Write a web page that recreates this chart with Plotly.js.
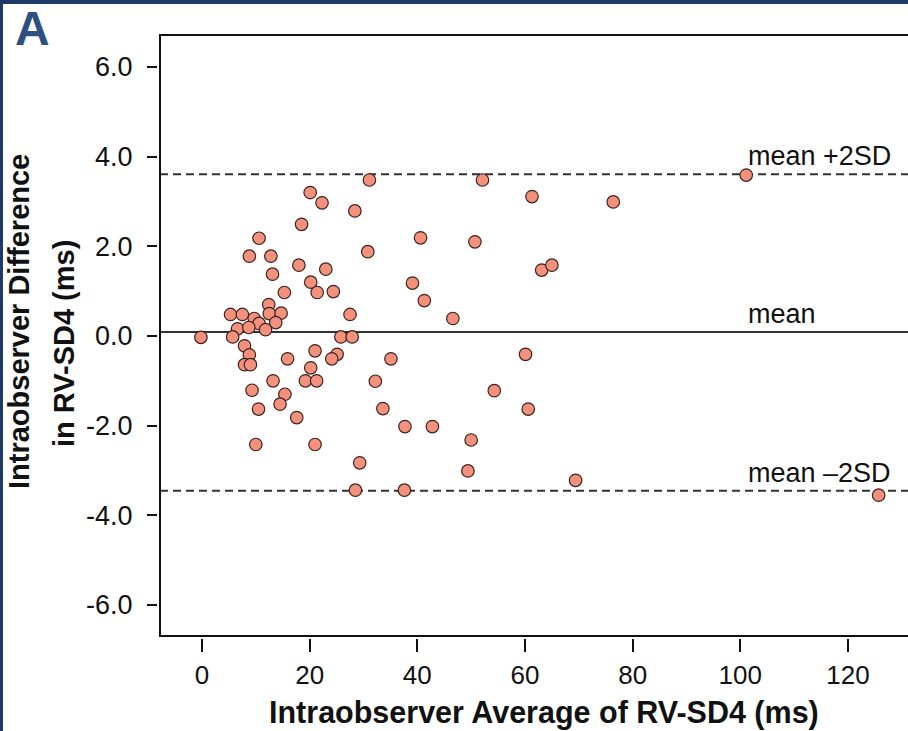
<!DOCTYPE html>
<html>
<head>
<meta charset="utf-8">
<script src="https://cdn.plot.ly/plotly-3.0.1.min.js"></script>
<style>
  html, body { margin: 0; padding: 0; background: #ffffff; }
  #chart { width: 908px; height: 731px; }
  #frame { position: absolute; left: 0; top: 0; width: 908px; height: 731px;
           border-top: 4px solid #1d3a68; border-left: 3px solid #1d3a68;
           box-sizing: border-box; pointer-events: none; }
</style>
</head>
<body>
<div id="chart"></div>
<div id="frame"></div>
<script>
// Bland-Altman data: average of two readings (ms) vs difference (ms)
const avgMs = [
  -0.2, 5.3, 7.5, 9.7, 10.6, 12.4, 12.5, 14.7, 13.7, 6.6,
  8.7, 11.8, 5.7, 7.9, 8.8, 7.9, 9.0, 15.9, 15.3, 20.2,
  21.4, 21.0, 20.2, 19.2, 21.3, 13.2, 9.3, 15.4, 31.1, 20.1,
  22.3, 28.4, 18.5, 10.6, 8.8, 12.8, 30.8, 18.0, 23.0, 13.1,
  24.4, 27.5, 25.8, 27.9, 25.1, 24.1, 35.1, 32.2, 14.5, 10.5,
  33.6, 17.6, 37.7, 10.0, 21.0, 29.3, 28.5, 37.6, 52.1, 61.3,
  76.4, 40.6, 50.7, 63.1, 65.0, 39.1, 41.3, 46.6, 101.1, 60.1,
  54.3, 60.6, 42.8, 50.0, 49.4, 69.4, 125.7
];
const diffMs = [
  -0.03, 0.48, 0.48, 0.39, 0.28, 0.70, 0.50, 0.51, 0.30, 0.16,
  0.19, 0.14, -0.02, -0.22, -0.42, -0.64, -0.64, -0.51, 0.97, 1.20,
  0.97, -0.33, -0.71, -1.00, -1.00, -1.00, -1.21, -1.30, 3.48, 3.20,
  2.97, 2.79, 2.49, 2.18, 1.78, 1.78, 1.88, 1.58, 1.49, 1.38,
  0.99, 0.48, -0.02, -0.02, -0.41, -0.51, -0.51, -1.01, -1.52, -1.63,
  -1.62, -1.82, -2.02, -2.42, -2.42, -2.83, -3.44, -3.44, 3.48, 3.11,
  2.99, 2.19, 2.10, 1.47, 1.58, 1.18, 0.79, 0.39, 3.59, -0.41,
  -1.22, -1.63, -2.02, -2.32, -3.01, -3.22, -3.55
];

// Limits of agreement
const meanDiff = 0.09;
const upperLoA = 3.61;
const lowerLoA = -3.45;
const limitLabels = ["mean +2SD", "mean", "mean \u20132SD"];
const limitValues = [upperLoA, meanDiff, lowerLoA];
const labelAtX = 101.0;

// Axes
const xTickVals = [0, 20, 40, 60, 80, 100, 120];
const xTickText = ["0", "20", "40", "60", "80", "100", "120"];
const yTickVals = [-6, -4, -2, 0, 2, 4, 6];
const yTickText = ["-6.0", "-4.0", "-2.0", "0.0", "2.0", "4.0", "6.0"];
const xTitle = "Intraobserver Average of RV-SD4 (ms)";
const yTitleLines = ["Intraobserver Difference", "in RV-SD4 (ms)"];
const panelLetter = "A";

const FONT = "Liberation Sans, Arial, Helvetica, sans-serif";
const L = 157, R = 0, T = 35, B = 93;
const PW = 908 - L - R, PH = 731 - T - B;
const px2paperX = p => (p - L) / PW;
const px2paperY = p => 1 - (p - T) / PH;

const trace = {
  x: avgMs, y: diffMs, type: "scatter", mode: "markers",
  marker: { size: 12.5, color: "#f3917d", line: { color: "#3a2420", width: 1.2 } },
  hoverinfo: "x+y", showlegend: false
};

const frameColor = "#111";
const shapes = [
  // frame: left, top, bottom (paper refs so they are not clipped)
  { type: "line", xref: "paper", yref: "paper", x0: px2paperX(160), x1: px2paperX(160), y0: px2paperY(637), y1: px2paperY(34), line: { color: frameColor, width: 2 }, layer: "above" },
  { type: "line", xref: "paper", yref: "paper", x0: px2paperX(159), x1: 1, y0: px2paperY(35), y1: px2paperY(35), line: { color: frameColor, width: 2 }, layer: "above" },
  { type: "line", xref: "paper", yref: "paper", x0: px2paperX(159), x1: 1, y0: px2paperY(636), y1: px2paperY(636), line: { color: frameColor, width: 2 }, layer: "above" },
  // limits of agreement
  { type: "line", xref: "x domain", yref: "y", x0: 0, x1: 1, y0: upperLoA, y1: upperLoA, line: { color: "#333", width: 2, dash: "8px,5px" }, layer: "below" },
  { type: "line", xref: "x domain", yref: "y", x0: 0, x1: 1, y0: meanDiff, y1: meanDiff, line: { color: "#333", width: 2 }, layer: "below" },
  { type: "line", xref: "x domain", yref: "y", x0: 0, x1: 1, y0: lowerLoA, y1: lowerLoA, line: { color: "#333", width: 2, dash: "8px,5px" }, layer: "below" }
];

const annotations = limitLabels.map((t, i) => ({
  text: t, xref: "x", yref: "y", x: labelAtX, y: limitValues[i],
  xanchor: "left", yanchor: "bottom", showarrow: false, yshift: 1,
  font: { family: FONT, size: 27, color: "#111" }
}));
annotations.push({
  text: "<b>" + panelLetter + "</b>", xref: "paper", yref: "paper",
  x: px2paperX(13), y: px2paperY(0), xanchor: "left", yanchor: "top",
  showarrow: false, font: { family: FONT, size: 48, color: "#2d5082" }
});
annotations.push({
  text: "<b>" + yTitleLines[0] + "</b>", xref: "paper", yref: "paper",
  x: px2paperX(19), y: px2paperY(322), xanchor: "center", yanchor: "middle",
  textangle: -90, showarrow: false, font: { family: FONT, size: 29, color: "#111" }
});
annotations.push({
  text: "<b>" + yTitleLines[1] + "</b>", xref: "paper", yref: "paper",
  x: px2paperX(64), y: px2paperY(344), xanchor: "center", yanchor: "middle",
  textangle: -90, showarrow: false, font: { family: FONT, size: 29, color: "#111" }
});
annotations.push({
  text: "<b>" + xTitle + "</b>", xref: "paper", yref: "paper",
  x: px2paperX(544), y: px2paperY(712), xanchor: "center", yanchor: "middle",
  showarrow: false, font: { family: FONT, size: 30.5, color: "#111" }
});

const layout = {
  width: 908, height: 731,
  margin: { l: L, r: R, t: T, b: B, pad: 0 },
  paper_bgcolor: "#ffffff", plot_bgcolor: "#ffffff",
  showlegend: false,
  xaxis: {
    domain: [3 / PW, 1], anchor: "free", position: 0,
    range: [-7.80, 131.15], showgrid: false, zeroline: false, showline: false,
    ticks: "outside", ticklen: 13, tickwidth: 2, tickcolor: "#111",
    tickvals: xTickVals, ticktext: xTickText, ticklabelstandoff: 1,
    tickfont: { family: FONT, size: 26, color: "#111" }
  },
  yaxis: {
    domain: [2 / PH, 1], anchor: "free", position: 0,
    range: [-6.692, 6.714], showgrid: false, zeroline: false, showline: false,
    ticks: "outside", ticklen: 10, tickwidth: 2, tickcolor: "#111",
    tickvals: yTickVals, ticktext: yTickText, ticklabelstandoff: 9,
    tickfont: { family: FONT, size: 27, color: "#111" }
  },
  shapes: shapes,
  annotations: annotations
};

Plotly.newPlot("chart", [trace], layout, { displayModeBar: false, staticPlot: true });
</script>
</body>
</html>
